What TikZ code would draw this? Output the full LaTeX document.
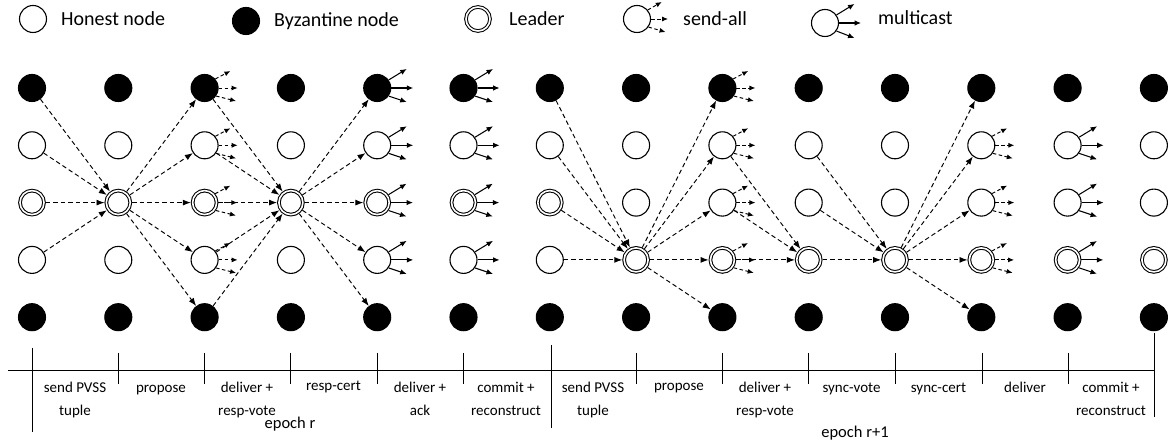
\documentclass[tikz,border=0pt]{standalone}
\usepackage{fontspec}
\setmainfont{Carlito}
\usetikzlibrary{arrows.meta}
\begin{document}
\begin{tikzpicture}[x=1pt,y=-1pt,
  nd/.style={circle,draw=black,line width=1.1pt,minimum size=27pt,inner sep=0pt},
  hon/.style={nd,fill=white},
  byz/.style={nd,fill=black},
  ldr/.style={circle,draw=black,line width=1.05pt,double=white,double distance=1.6pt,minimum size=24pt,inner sep=0pt,outer sep=1.8pt},
  msg/.style={line width=0.95pt,dash pattern=on 4.5pt off 3pt,-{Latex[length=8pt,width=6pt]}},
  sa/.style={line width=0.95pt,dash pattern=on 3.5pt off 2.5pt,-{Latex[length=6pt,width=5pt]}},
  mc/.style={line width=1.05pt,-{Latex[length=6.5pt,width=5.5pt]}},
  legtext/.style={anchor=west,inner sep=0pt,font=\fontsize{20}{22}\selectfont},
  lab/.style={anchor=base,align=center,inner sep=0pt,font=\fontsize{15}{23}\selectfont},
  eplab/.style={anchor=base,inner sep=0pt,font=\fontsize{16.5}{20}\selectfont},
  tick/.style={line width=1pt}
]
\useasboundingbox (0,0) rectangle (1172,443);

% ---------- legend ----------
\node[hon] (lh) at (33,19) {};
\node[legtext] (lht) at (61,19) {Honest node};
\node[byz] (lb) at (246,21) {};
\node[legtext] (lbt) at (274,21) {Byzantine node};
\node[ldr] (ll) at (478,19) {};
\node[legtext] (llt) at (509,19) {Leader};
\node[hon] (ls) at (637,19) {};
\node[legtext] (lst) at (683,19) {send-all};
\node[hon] (lm) at (825,23) {};
\node[legtext] (lmt) at (878,18) {multicast};
\draw[sa] (ls.40) -- ++(14,-8);
\draw[sa] (ls.0) -- ++(17,0);
\draw[sa] (ls.-35) -- ++(17,5);
\draw[mc] (lm.35) -- ++(18,-11);
\draw[mc] (lm.0) -- ++(22,0);
\draw[mc] (lm.-35) -- ++(18,7);

% ---------- grid of nodes ----------
\foreach \c in {1,...,14}{
  \node[byz] (n\c-1) at ({32+(\c-1)*86.3},88) {};
  \node[hon] (n\c-2) at ({32+(\c-1)*86.3},145.3) {};
  \node[byz] (n\c-5) at ({32+(\c-1)*86.3},317.2) {};
}
\foreach \c in {1,...,7}{
  \node[ldr] (n\c-3) at ({32+(\c-1)*86.3},202.6) {};
  \node[hon] (n\c-4) at ({32+(\c-1)*86.3},259.9) {};
}
\foreach \c in {8,...,14}{
  \node[hon] (n\c-3) at ({32+(\c-1)*86.3},202.6) {};
  \node[ldr] (n\c-4) at ({32+(\c-1)*86.3},259.9) {};
}

% ---------- messages, epoch r ----------
\foreach \r in {1,...,4} \draw[msg] (n1-\r) -- (n2-3);
\foreach \r in {1,...,5} \draw[msg] (n2-3) -- (n3-\r);
\foreach \r in {1,...,5} \draw[msg] (n3-\r) -- (n4-3);
\foreach \r in {1,...,5} \draw[msg] (n4-3) -- (n5-\r);

% ---------- messages, epoch r+1 ----------
\foreach \r in {1,...,4} \draw[msg] (n7-\r) -- (n8-4);
\foreach \r in {1,...,5} \draw[msg] (n8-4) -- (n9-\r);
\foreach \r in {2,3,4} \draw[msg] (n9-\r) -- (n10-4);
\foreach \r in {2,3,4} \draw[msg] (n10-\r) -- (n11-4);
\foreach \r in {1,...,5} \draw[msg] (n11-4) -- (n12-\r);

% ---------- send-all glyphs ----------
\foreach \n in {n3-1,n3-2,n3-3,n3-4,n9-1,n9-2,n9-3,n9-4,n12-2,n12-3,n12-4}{
  \draw[sa] (\n.40) -- ++(15,-8);
  \draw[sa] (\n.0) -- ++(19,0);
  \draw[sa] (\n.-35) -- ++(20,5);
}
% ---------- multicast glyphs ----------
\foreach \n in {n5-1,n5-2,n5-3,n5-4,n6-1,n6-2,n6-3,n6-4,n13-2,n13-3,n13-4}{
  \draw[mc] (\n.35) -- ++(18,-11);
  \draw[mc] (\n.0) -- ++(22,0);
  \draw[mc] (\n.-35) -- ++(18,6);
}

% ---------- timeline ----------
\coordinate (tA) at (8,370);
\coordinate (tB) at (1154,370);
\draw[tick] (tA) -- (tB);
\foreach \x in {118,204,290,377,463,636,722,808,895,982,1068}
  \draw[tick] (\x,353) -- (\x,384);
\draw[tick] (32,348) -- (32,432);
\draw[tick] (551,345) -- (551,428);
\draw[tick] (1154,333) -- (1154,417);

\node[lab] (s1) at (75,415) {send PVSS\\tuple};
\node[lab] (s2) at (161,392) {propose};
\node[lab] (s3) at (247,415) {deliver +\\resp-vote};
\node[lab] (s4) at (333.5,390) {resp-cert};
\node[lab] (s5) at (420,415) {deliver +\\ack};
\node[lab] (s6) at (506,415) {commit +\\reconstruct};
\node[lab] (s7) at (593,415) {send PVSS\\tuple};
\node[lab] (s8) at (679,390) {propose};
\node[lab] (s9) at (765,415) {deliver +\\resp-vote};
\node[lab] (s10) at (851.5,392) {sync-vote};
\node[lab] (s11) at (938.5,392) {sync-cert};
\node[lab] (s12) at (1025,392) {deliver};
\node[lab] (s13) at (1111,415) {commit +\\reconstruct};
\node[eplab] (e1) at (290,428) {epoch r};
\node[eplab] (e2) at (855,437) {epoch r+1};
\end{tikzpicture}
\end{document}
